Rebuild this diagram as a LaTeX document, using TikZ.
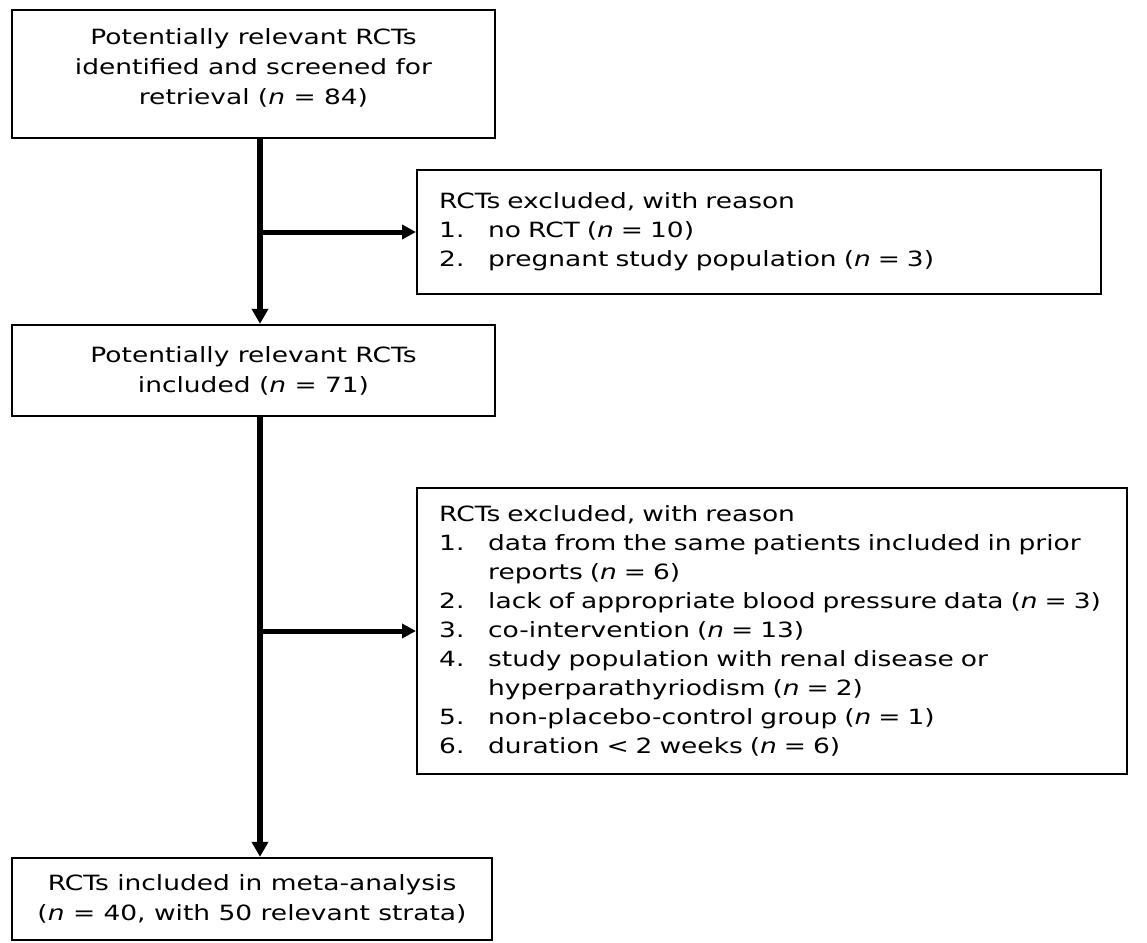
\documentclass[tikz,border=0pt]{standalone}
\usepackage{fontspec}
\setmainfont{DejaVu Sans}[FakeStretch=1.26]
\usetikzlibrary{arrows.meta,positioning,calc}
\tikzset{
    box/.style={
        rectangle,
        draw=black,
        line width=2.4pt,
        align=center,
        inner sep=0pt,
        font=\fontsize{21}{30}\selectfont,
    },
    listbox/.style={
        box,
        align=left,
        anchor=west,
        inner xsep=22pt,
        font=\fontsize{21}{29}\selectfont,
    },
    trunk/.style={line width=6pt,-{Triangle[length=15pt,width=16pt]}},
    branch/.style={line width=5pt,-{Triangle[length=14pt,width=14pt]}},
}
\newcommand{\itm}[1]{\makebox[49pt][l]{#1}}

\begin{document}
\begin{tikzpicture}[x=1pt,y=-1pt]
    \useasboundingbox (0,0) rectangle (1147,942);
    \coordinate (axis) at (260,0);

    \node [box,minimum width=483pt,minimum height=128pt,text depth=14pt] (found) at (253.5,74)
        {Potentially relevant RCTs\\identified and screened for\\retrieval (\textit{n} = 84)};
    \node [listbox,text width=640pt,minimum height=124pt] (excl1) at (416,232)
        {RCTs excluded, with reason\\
         \itm{1.}no RCT (\textit{n} = 10)\\
         \itm{2.}pregnant study population (\textit{n} = 3)};
    \node [box,minimum width=483pt,minimum height=91pt] (incl) at (253.5,370.5)
        {Potentially relevant RCTs\\included (\textit{n} = 71)};
    \node [listbox,text width=666pt,minimum height=286pt] (excl2) at (416,631)
        {RCTs excluded, with reason\\
         \itm{1.}data from the same patients included in prior\\
         \itm{}reports (\textit{n} = 6)\\
         \itm{2.}lack of appropriate blood pressure data (\textit{n} = 3)\\
         \itm{3.}co-intervention (\textit{n} = 13)\\
         \itm{4.}study population with renal disease or\\
         \itm{}hyperparathyriodism (\textit{n} = 2)\\
         \itm{5.}non-placebo-control group (\textit{n} = 1)\\
         \itm{6.}duration < 2 weeks (\textit{n} = 6)};
    \node [box,minimum width=480pt,minimum height=82pt] (final) at (252,899)
        {RCTs included in meta-analysis\\(\textit{n} = 40, with 50 relevant strata)};

    \draw [trunk] (found.south -| axis) -- (incl.north -| axis);
    \draw [trunk] (incl.south -| axis) -- (final.north -| axis);
    \draw [branch] (excl1.west -| axis) -- (excl1.west);
    \draw [branch] (excl2.west -| axis) -- (excl2.west);
\end{tikzpicture}
\end{document}
